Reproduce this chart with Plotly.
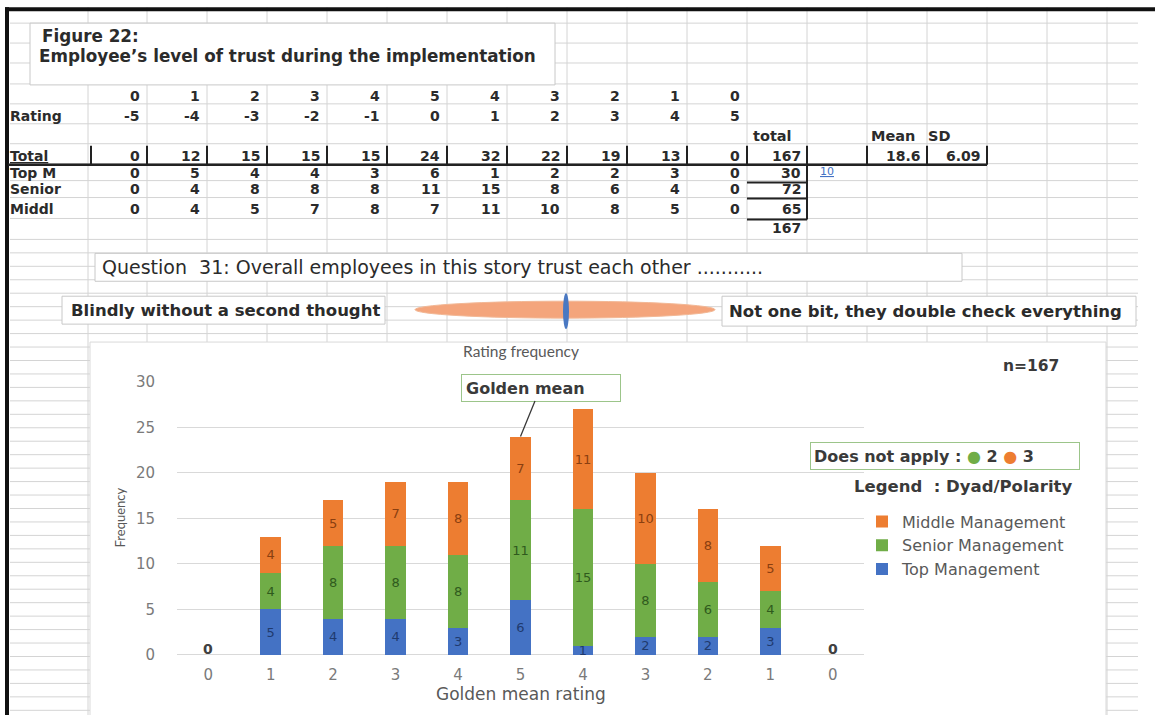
import plotly.graph_objects as go

W, H = 1155, 715

# ---- data -------------------------------------------------------------
scale_labels = [0, 1, 2, 3, 4, 5, 4, 3, 2, 1, 0]      # golden-mean scale
ratings = [-5, -4, -3, -2, -1, 0, 1, 2, 3, 4, 5]       # raw rating
row_totals = [0, 12, 15, 15, 15, 24, 32, 22, 19, 13, 0]
top_mgmt = [0, 5, 4, 4, 3, 6, 1, 2, 2, 3, 0]
senior_mgmt = [0, 4, 8, 8, 8, 11, 15, 8, 6, 4, 0]
middle_mgmt = [0, 4, 5, 7, 8, 7, 11, 10, 8, 5, 0]
grand_total = 167
mean_value = "18.6"
sd_value = "6.09"
dna_green = 2
dna_orange = 3

series_names = ["Top Management", "Senior Management", "Middle Management"]
series_colors = ["#4472C4", "#70AD47", "#ED7D31"]
label_colors = ["#1F3A6E", "#2F5A1D", "#8A3F10"]
legend_ranks = [3, 2, 1]

# the page adds an 8px body margin above and below the figure and the
# snapshot is squeezed back to the window height; compensate vertically
PAGE_SCALE = H / (H + 16)
PAGE_OFFSET = 8 * PAGE_SCALE


def px(x):
    return x / W


def py(y):
    return 1 - ((y - PAGE_OFFSET) / PAGE_SCALE) / H


shapes = []
annotations = []

SHEET_FONT = "DejaVu Sans"
CHART_FONT = "DejaVu Sans"
INK = "#2b2b2b"
GRID = "#d4d4d4"


def line(x0, y0, x1, y1, color=GRID, width=1):
    shapes.append(dict(type="line", xref="paper", yref="paper", layer="below",
                       x0=px(x0), y0=py(y0), x1=px(x1), y1=py(y1),
                       line=dict(color=color, width=width)))


def rect(x0, y0, x1, y1, fill="white", color="#c8c8c8", width=1, kind="rect"):
    shapes.append(dict(type=kind, xref="paper", yref="paper", layer="below",
                       x0=px(x0), y0=py(y0), x1=px(x1), y1=py(y1),
                       fillcolor=fill, line=dict(color=color, width=width)))


def text(t, x, y, anchor="left", size=14, bold=True, color=INK, family=SHEET_FONT, **kw):
    annotations.append(dict(text=str(t), x=px(x), y=py(y), xref="paper", yref="paper",
                            xanchor=anchor, yanchor="middle", showarrow=False,
                            font=dict(family=family, size=size, color=color,
                                      weight="bold" if bold else "normal"), **kw))


# ---- spreadsheet grid -------------------------------------------------
col_lines = [88] + [147 + 60 * k for k in range(17)]
for x in col_lines:
    line(x, 6, x, 730)
row_lines = [22, 42, 62, 83, 103, 123, 143, 163, 180, 197, 218, 239]
y = 239
while y < 730:
    y += 13.5
    row_lines.append(y)
for y in row_lines:
    line(10, y, 1138, y)

# outer frame of the sheet
rect(5, 6, 1155, 10, fill="#111111", color="#111111", width=0)
rect(5, 6, 9, 730, fill="#111111", color="#111111", width=0)

# figure caption box
rect(30, 22, 555, 84)
text("Figure 22:", 40, 35, size=16.8)
text("Employee\u2019s level of trust during the implementation", 37, 55, size=16.8)

# ---- summary table ----------------------------------------------------
col_right = [147 + 60 * k for k in range(11)]
for k, v in enumerate(scale_labels):
    text(v, col_right[k] - 5, 95, anchor="right")
text("Rating", 8, 115)
for k, v in enumerate(ratings):
    text(v, col_right[k] - 5, 115, anchor="right")

text("total", 751, 135, size=14.5)
text("Mean", 869, 135, size=14.5)
text("SD", 926, 135, size=14.5)

text("<u>Total</u>", 8, 155)
for k, v in enumerate(row_totals):
    text(v, col_right[k] - 5, 155, anchor="right")
text(grand_total, 803, 155, anchor="right")
text(mean_value, 923, 155, anchor="right")
text(sd_value, 983, 155, anchor="right")

group_rows = [("Top M", top_mgmt, 172), ("Senior", senior_mgmt, 188), ("Middl", middle_mgmt, 208)]
for label, vals, yy in group_rows:
    text(label, 8, yy)
    for k, v in enumerate(vals):
        text(v, col_right[k] - 5, yy, anchor="right")
    text(sum(vals), 803, yy, anchor="right")
text(sum(top_mgmt) + sum(senior_mgmt) + sum(middle_mgmt), 803, 228, anchor="right")
text("<u>10</u>", 818, 171, size=11, bold=False, color="#4472C4")

# heavy cell borders
for x in [91] + col_right + [807, 867, 927, 987]:
    line(x, 145, x, 164, color="#222222", width=2)
line(8, 164, 987, 164, color="#222222", width=2.5)
for yy in (182, 198, 219):
    line(747, yy, 807, yy, color="#222222", width=2)
line(807, 164, 807, 219, color="#222222", width=2)

# ---- question and polarity slider --------------------------------------
rect(95, 253, 962, 281)
text("Question  31: Overall employees in this story trust each other ...........",
     100, 267, size=19, bold=False)
rect(62, 296, 385, 324)
text("Blindly without a second thought", 69, 310, size=16.5)
rect(722, 296, 1136, 326)
text("Not one bit, they double check everything", 727, 311, size=16.5)
rect(415, 301, 715, 318, fill="#F4A57C", color="#F2B896", width=1, kind="circle")
rect(563, 293, 569, 329, fill="#4A78C2", color="#4A78C2", width=0, kind="circle")

# ---- chart area --------------------------------------------------------
rect(90, 342, 1106, 730, fill="white", color="#d9d9d9")

x_idx = list(range(len(scale_labels)))
fig = go.Figure()
for name, vals, color, lab, rank in zip(series_names, [top_mgmt, senior_mgmt, middle_mgmt],
                                        series_colors, label_colors, legend_ranks):
    fig.add_trace(go.Bar(
        x=x_idx, y=vals, name=name, legendrank=rank,
        marker=dict(color=color, line=dict(width=0)),
        text=[str(v) if v else "" for v in vals],
        textposition="inside", insidetextanchor="middle", constraintext="none",
        textangle=0, textfont=dict(family=CHART_FONT, size=13, color=lab),
        hoverinfo="skip",
    ))

stack_totals = [a + b + c for a, b, c in zip(top_mgmt, senior_mgmt, middle_mgmt)]
for i, tot in enumerate(stack_totals):
    if tot == 0:
        annotations.append(dict(x=i, y=0, xref="x", yref="y", text="0", showarrow=False,
                                xanchor="center", yanchor="middle", yshift=6,
                                font=dict(family=CHART_FONT, size=14, color="#404040",
                                          weight="bold")))

peak_idx = scale_labels.index(5)
annotations.append(dict(
    x=peak_idx, y=stack_totals[peak_idx], xref="x", yref="y",
    text="Golden mean", showarrow=True, arrowhead=0, arrowwidth=1.3, arrowcolor="#3a3a3a",
    ax=20, ay=-49, bordercolor="#9CC58A", borderwidth=1, borderpad=4, bgcolor="white",
    width=150, height=18, align="left",
    font=dict(family=CHART_FONT, size=16, color="#3a3a3a", weight="bold"),
))
annotations.append(dict(
    x=px(945), y=py(456), xref="paper", yref="paper", showarrow=False,
    xanchor="center", yanchor="middle",
    text=("Does not apply : <span style='color:#70AD47'>\u25CF</span> %d "
          "<span style='color:#ED7D31'>\u25CF</span> %d" % (dna_green, dna_orange)),
    bordercolor="#9CC58A", borderwidth=1, borderpad=3, bgcolor="white",
    width=262, height=20, align="left",
    font=dict(family=CHART_FONT, size=16, color="#3a3a3a", weight="bold"),
))
text("Legend  : Dyad/Polarity", 852, 487, size=16.5, color="#3a3a3a", family=CHART_FONT)
text("n=%d" % grand_total, 1031, 366, anchor="center", size=15.5, color="#3a3a3a",
     family=CHART_FONT)
annotations.append(dict(x=px(120), y=py(518), xref="paper", yref="paper", showarrow=False,
                        xanchor="center", yanchor="middle",
                        text="Frequency", textangle=-90,
                        font=dict(family="Lato", size=13, color="#595959")))
annotations.append(dict(x=px(521), y=py(695), xref="paper", yref="paper", showarrow=False,
                        xanchor="center", yanchor="middle",
                        text="Golden mean rating",
                        font=dict(family=CHART_FONT, size=17, color="#595959")))

fig.update_layout(
    width=W, height=H, autosize=False,
    margin=dict(l=0, r=0, t=0, b=0),
    paper_bgcolor="white", plot_bgcolor="rgba(0,0,0,0)",
    barmode="stack", bargap=0.67,
    title=dict(text="Rating frequency", x=px(521), y=py(352), xanchor="center",
               yanchor="middle", xref="paper", yref="paper",
               font=dict(family="Lato", size=15.5, color="#595959")),
    xaxis=dict(domain=[px(177), px(864)], range=[-0.5, 10.5],
               tickvals=x_idx, ticktext=[str(v) for v in scale_labels],
               showgrid=False, zeroline=False, showline=False, ticks="",
               ticklabelstandoff=9,
               tickfont=dict(family=CHART_FONT, size=15, color="#7a7a7a")),
    yaxis=dict(domain=[py(656), py(382)], range=[0, 30], dtick=5,
               showgrid=True, gridcolor="#d9d9d9", gridwidth=1,
               zeroline=True, zerolinecolor="#d9d9d9", zerolinewidth=1,
               showline=False, ticks="", ticklabelstandoff=21,
               tickfont=dict(family=CHART_FONT, size=15, color="#7a7a7a")),
    legend=dict(x=px(862), y=py(505), xanchor="left", yanchor="top",
                traceorder="normal", itemwidth=30,
                bgcolor="rgba(0,0,0,0)",
                font=dict(family=CHART_FONT, size=16, color="#595959")),
    shapes=shapes,
    annotations=annotations,
)

fig.write_html("out.html")
